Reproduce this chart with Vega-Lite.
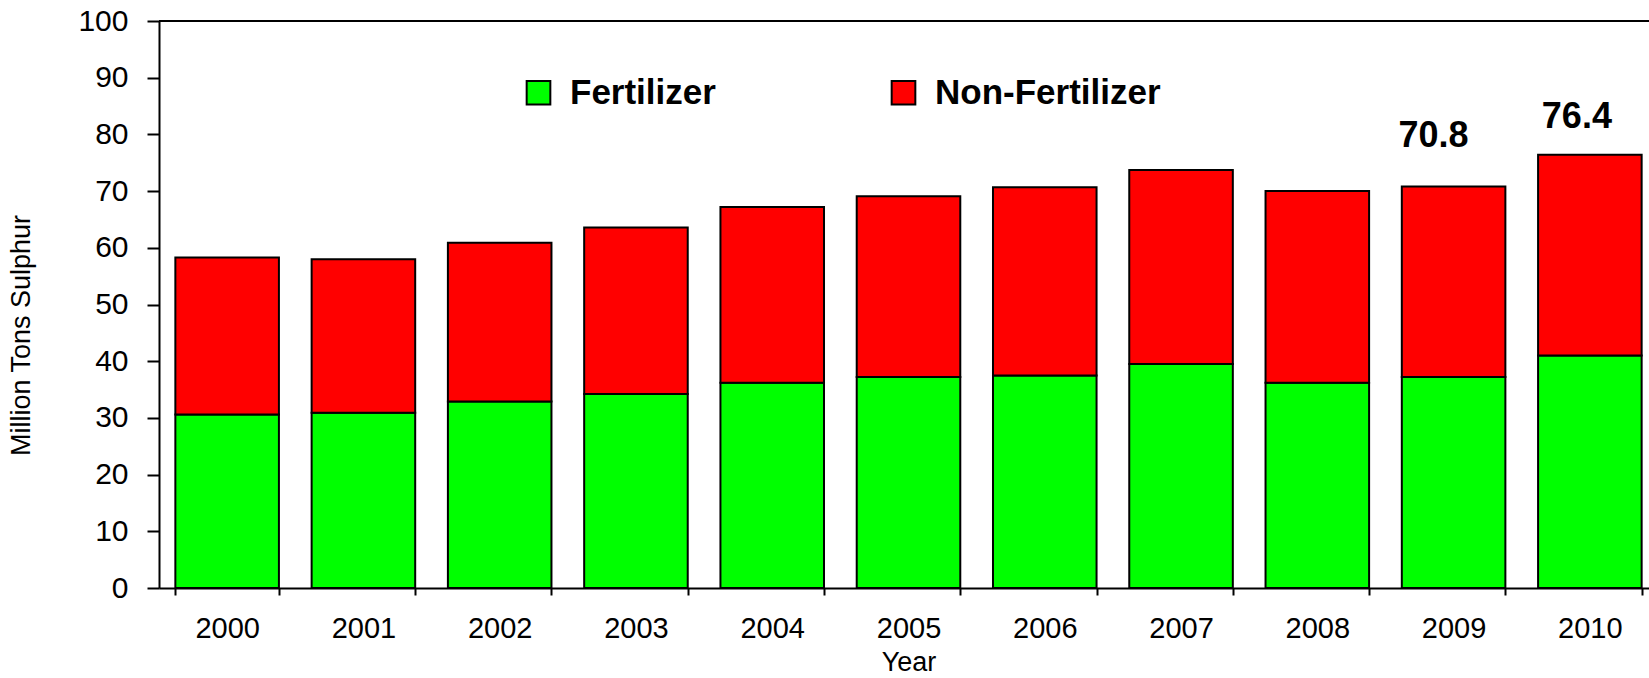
{
  "$schema": "https://vega.github.io/schema/vega-lite/v6.json",
  "width": 1490,
  "height": 567,
  "autosize": {"type": "none"},
  "padding": {"left": 159, "top": 21, "right": 0, "bottom": 90},
  "background": "white",
  "config": {"view": {"stroke": null}, "font": "Liberation Sans"},
  "datasets": {
    "sulphur": [
      {"year": "2000", "type": "Fertilizer", "value": 30.6},
      {"year": "2000", "type": "Non-Fertilizer", "value": 27.7},
      {"year": "2001", "type": "Fertilizer", "value": 30.9},
      {"year": "2001", "type": "Non-Fertilizer", "value": 27.1},
      {"year": "2002", "type": "Fertilizer", "value": 32.9},
      {"year": "2002", "type": "Non-Fertilizer", "value": 28.0},
      {"year": "2003", "type": "Fertilizer", "value": 34.2},
      {"year": "2003", "type": "Non-Fertilizer", "value": 29.4},
      {"year": "2004", "type": "Fertilizer", "value": 36.2},
      {"year": "2004", "type": "Non-Fertilizer", "value": 31.0},
      {"year": "2005", "type": "Fertilizer", "value": 37.2},
      {"year": "2005", "type": "Non-Fertilizer", "value": 31.9},
      {"year": "2006", "type": "Fertilizer", "value": 37.5},
      {"year": "2006", "type": "Non-Fertilizer", "value": 33.2},
      {"year": "2007", "type": "Fertilizer", "value": 39.5},
      {"year": "2007", "type": "Non-Fertilizer", "value": 34.2},
      {"year": "2008", "type": "Fertilizer", "value": 36.2},
      {"year": "2008", "type": "Non-Fertilizer", "value": 33.8},
      {"year": "2009", "type": "Fertilizer", "value": 37.2},
      {"year": "2009", "type": "Non-Fertilizer", "value": 33.6},
      {"year": "2010", "type": "Fertilizer", "value": 41.0},
      {"year": "2010", "type": "Non-Fertilizer", "value": 35.4}
    ],
    "totals": [
      {"year": "2009", "total": 70.8},
      {"year": "2010", "total": 76.4}
    ]
  },
  "layer": [
    {
      "data": {"name": "sulphur"},
      "mark": {"type": "bar", "stroke": "black", "strokeWidth": 2},
      "encoding": {
        "x": {
          "field": "year", "type": "ordinal",
          "scale": {"range": [0, 1499], "paddingInner": 0.24, "paddingOuter": 0.12},
          "axis": {
            "title": "Year", "titleFontSize": 27, "titleFontWeight": "normal", "titleColor": "black", "titlePadding": 6,
            "labelAngle": 0, "labelFontSize": 29, "labelColor": "black", "labelPadding": 19,
            "tickSize": 7, "tickColor": "black", "tickWidth": 2, "tickBand": "extent",
            "domainColor": "black", "domainWidth": 2
          }
        },
        "y": {
          "field": "value", "type": "quantitative", "stack": "zero",
          "scale": {"domain": [0, 100], "nice": false},
          "axis": {
            "title": "Million Tons Sulphur", "titleFontSize": 27, "titleFontWeight": "normal", "titleColor": "black", "titlePadding": 42, "titleY": 314,
            "values": [0, 10, 20, 30, 40, 50, 60, 70, 80, 90, 100],
            "labelFontSize": 30, "labelColor": "black", "labelPadding": 19,
            "tickSize": 12, "tickColor": "black", "tickWidth": 2,
            "domainColor": "black", "domainWidth": 2, "grid": false
          }
        },
        "color": {
          "field": "type", "type": "nominal",
          "scale": {"domain": ["Fertilizer", "Non-Fertilizer"], "range": ["#00ff00", "#ff0000"]},
          "legend": {
            "orient": "none", "legendX": 362, "legendY": 54, "direction": "horizontal", "title": null,
            "symbolType": "square", "symbolSize": 560, "symbolStrokeColor": "black", "symbolStrokeWidth": 2,
            "labelFontSize": 35, "labelFontWeight": "bold", "labelColor": "black", "labelOffset": 14,
            "columnPadding": 170, "labelLimit": 400
          }
        },
        "order": {"field": "type", "type": "nominal", "sort": "ascending"}
      }
    },
    {
      "data": {"values": [{}]},
      "mark": {"type": "rule", "color": "black", "strokeWidth": 2},
      "encoding": {"y": {"datum": 100}}
    },
    {
      "data": {"name": "totals"},
      "transform": [{"filter": "datum.year == '2009'"}],
      "mark": {"type": "text", "fontSize": 36, "fontWeight": "bold", "baseline": "alphabetic", "dy": -40, "dx": -20, "color": "black"},
      "encoding": {
        "x": {"field": "year", "type": "ordinal"},
        "y": {"field": "total", "type": "quantitative"},
        "text": {"field": "total", "type": "quantitative", "format": ".1f"}
      }
    },
    {
      "data": {"name": "totals"},
      "transform": [{"filter": "datum.year == '2010'"}],
      "mark": {"type": "text", "fontSize": 36, "fontWeight": "bold", "baseline": "alphabetic", "dy": -27, "dx": -13, "color": "black"},
      "encoding": {
        "x": {"field": "year", "type": "ordinal"},
        "y": {"field": "total", "type": "quantitative"},
        "text": {"field": "total", "type": "quantitative", "format": ".1f"}
      }
    }
  ]
}
